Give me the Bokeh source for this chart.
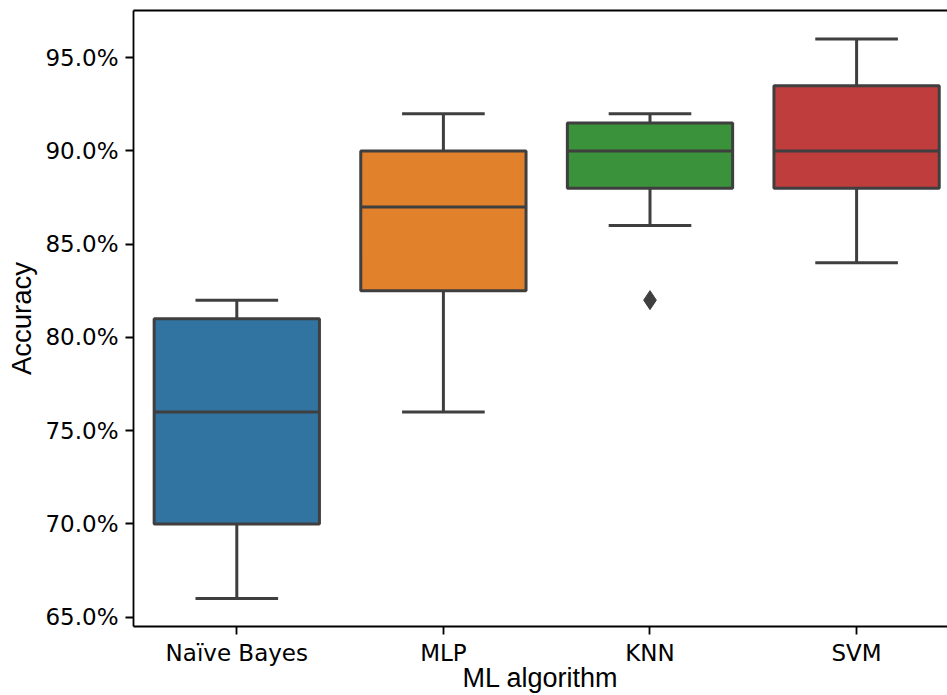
from bokeh.plotting import figure
from bokeh.models import (ColumnDataSource, Range1d, FixedTicker, PrintfTickFormatter,
                          LinearAxis)
from bokeh.embed import file_html
from bokeh.resources import INLINE

# ---- data ----
algorithms = ["Naïve Bayes", "MLP", "KNN", "SVM"]
whisker_low = [66.0, 76.0, 86.0, 84.0]
q1 = [70.0, 82.5, 88.0, 88.0]
median = [76.0, 87.0, 90.0, 90.0]
q3 = [81.0, 90.0, 91.5, 93.5]
whisker_high = [82.0, 92.0, 92.0, 96.0]
outlier_alg = ["KNN"]
outlier_val = [82.0]
colors = ["#3274a1", "#e1812c", "#3a923a", "#c03d3e"]
y_ticks = [65, 70, 75, 80, 85, 90, 95]

BOX_W = 0.8
CAP_W = 0.4
EDGE = "#3f3f3f"
LW = 3.0

pos = list(range(len(algorithms)))
src = ColumnDataSource(dict(
    x=pos,
    left=[i - BOX_W / 2 for i in pos],
    right=[i + BOX_W / 2 for i in pos],
    cl=[i - CAP_W / 2 for i in pos],
    cr=[i + CAP_W / 2 for i in pos],
    lo=whisker_low, q1=q1, med=median, q3=q3, hi=whisker_high, color=colors,
))
out_src = ColumnDataSource(dict(x=[algorithms.index(a) for a in outlier_alg], y=outlier_val))

W, H = 947, 695
Y0, Y1 = 64.5, 97.53
p = figure(width=W, height=H, output_backend="svg", toolbar_location=None,
           x_range=Range1d(-0.5, 3.44), y_range=Range1d(Y0, Y1),
           min_border_left=133, min_border_right=0, min_border_top=10,
           min_border_bottom=69,
           background_fill_color="white", border_fill_color="white")
p.outline_line_color = None
p.xgrid.visible = False
p.ygrid.visible = False

# whiskers
p.segment(x0="x", y0="q3", x1="x", y1="hi", source=src, line_color=EDGE, line_width=LW)
p.segment(x0="x", y0="lo", x1="x", y1="q1", source=src, line_color=EDGE, line_width=LW)
p.segment(x0="cl", y0="hi", x1="cr", y1="hi", source=src, line_color=EDGE, line_width=LW)
p.segment(x0="cl", y0="lo", x1="cr", y1="lo", source=src, line_color=EDGE, line_width=LW)
# boxes
p.quad(left="left", right="right", bottom="q1", top="q3", source=src,
       fill_color="color", line_color=EDGE, line_width=LW)
# medians
p.segment(x0="left", y0="med", x1="right", y1="med", source=src, line_color=EDGE, line_width=LW)
# outliers
p.scatter(x="x", y="y", source=out_src, marker="diamond", size=19,
          fill_color=EDGE, line_color=EDGE, line_width=1)

# axes
for ax in (p.xaxis[0], p.yaxis[0]):
    ax.axis_line_color = "black"
    ax.axis_line_width = 1.8
    ax.major_tick_line_color = "black"
    ax.major_tick_line_width = 1.8
    ax.major_tick_out = 8
    ax.major_tick_in = 0
    ax.minor_tick_line_color = None
    ax.major_label_text_font = "DejaVu Sans"
    ax.major_label_text_font_size = "23px"
    ax.major_label_text_color = "black"
    ax.axis_label_text_font = "Liberation Sans"
    ax.axis_label_text_font_size = "27.5px"
    ax.axis_label_text_font_style = "normal"
    ax.axis_label_text_color = "black"

p.xaxis.ticker = FixedTicker(ticks=pos)
p.xaxis.major_label_overrides = {i: a for i, a in zip(pos, algorithms)}
p.xaxis.major_label_standoff = 5
p.xaxis.axis_label = "ML algorithm"
p.xaxis.axis_label_text_font_size = "27px"
p.xaxis.axis_label_standoff = -6

p.yaxis.ticker = FixedTicker(ticks=y_ticks)
p.yaxis.formatter = PrintfTickFormatter(format="%.1f%%")
p.yaxis.axis_label = "Accuracy"
p.yaxis.major_label_standoff = 7
p.yaxis.axis_label_standoff = 5

top = LinearAxis(ticker=FixedTicker(ticks=[]), major_label_text_font_size="0px",
                 major_tick_line_color=None, minor_tick_line_color=None,
                 axis_line_color="black", axis_line_width=1.8)
p.add_layout(top, "above")

open("out.html", "w").write(file_html(p, INLINE))
